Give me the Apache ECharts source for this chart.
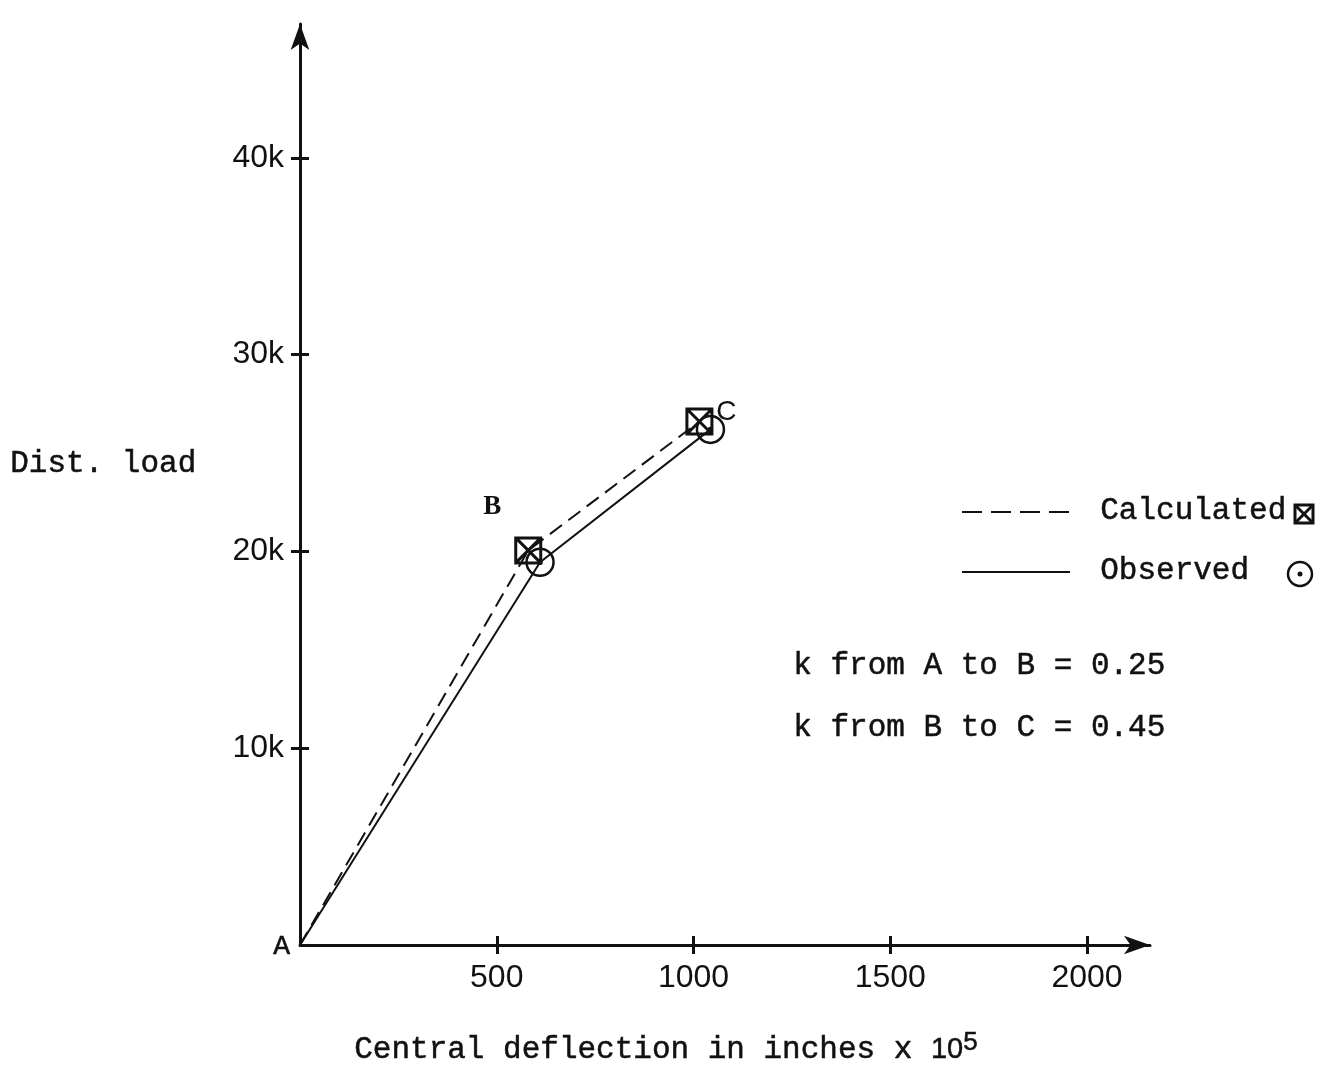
<!DOCTYPE html>
<html>
<head>
<meta charset="utf-8">
<script src="https://cdn.jsdelivr.net/npm/echarts@6/dist/echarts.min.js"></script>
<style>
html, body { margin: 0; padding: 0; background: #fff; }
#chart { width: 1330px; height: 1078px; }
</style>
</head>
<body>
<div id="chart"></div>
<script>
// data (deflection x 1e5 in, load)
var calcPoints = [[0, 0], [580, 20050], [1015, 26600]];
var obsPoints = [[0, 0], [610, 19450], [1043, 26200]];
var xTicks = [500, 1000, 1500, 2000];
var yTicks = [10000, 20000, 30000, 40000];
var pointNames = ['A', 'B', 'C'];

var ink = '#111';
var mono = '"Liberation Mono", "DejaVu Sans Mono", monospace';
var digits = '"Liberation Sans", "DejaVu Sans", sans-serif';

var squareX = 'path://M1,1H23V23H1Z M1,1L23,23 M23,1L1,23';
var circleDot = 'path://M12,1A11,11 0 1 1 11.99,1Z M12,10.8A1.2,1.2 0 1 1 11.99,10.8Z';

var myChart = echarts.init(document.getElementById('chart'));

function buildData(points) {
	var res = [];
	for (var i = 0; i < points.length; i++) {
		var item = { value: points[i] };
		if (i == 0) item.symbolSize = 0;   // no marker at origin
		res.push(item);
	}
	return res;
}

var calcData = buildData(calcPoints);
var obsData = buildData(obsPoints);

// point labels B, C (A is placed at the origin after setOption)
calcData[1].label = {
	show: true, formatter: pointNames[1], position: 'inside', offset: [-36, -43],
	fontFamily: '"Liberation Serif", serif', fontWeight: 'bold', fontSize: 27, color: ink
};
calcData[2].label = {
	show: true, formatter: pointNames[2], position: 'inside', offset: [27, -9],
	fontFamily: digits, fontSize: 28, color: ink
};

var axisCommon = {
	type: 'value',
	splitLine: { show: false },
	axisLine: {
		show: true,
		lineStyle: { color: ink, width: 3 }
	}
};

var typeStyle = function (txt) {
	return { text: txt, font: '31px ' + mono, fill: ink, stroke: ink, lineWidth: 0.5 };
};

option = {
	backgroundColor: '#fff',
	animation: false,
	grid: {
		left: 300,
		right: 180,
		top: 24,
		bottom: 133
	},
	xAxis: [
		echarts.util.merge({
			min: 0,
			max: 2160,
			axisLine: { symbol: ['none', 'arrow'], symbolSize: [14, 26] },
			axisTick: {
				show: true, length: 9, inside: false,
				customValues: xTicks,
				lineStyle: { color: ink, width: 3 }
			},
			axisLabel: {
				show: true, margin: 17,
				customValues: xTicks,
				fontFamily: digits, fontSize: 32, color: ink,
				formatter: function (v) { return String(v); }
			}
		}, axisCommon),
		{
			type: 'value', min: 0, max: 2160, position: 'bottom',
			splitLine: { show: false },
			axisLine: { show: false },
			axisLabel: { show: false },
			axisTick: {
				show: true, length: 9, inside: true,
				customValues: xTicks,
				lineStyle: { color: ink, width: 3 }
			}
		}
	],
	yAxis: [
		echarts.util.merge({
			min: 0,
			max: 46800,
			axisLine: { symbol: ['none', 'arrow'], symbolSize: [14, 26] },
			axisTick: {
				show: true, length: 9, inside: false,
				customValues: yTicks,
				lineStyle: { color: ink, width: 3 }
			},
			axisLabel: {
				show: true, margin: 16,
				customValues: yTicks,
				fontFamily: digits, fontSize: 32, color: ink,
				formatter: function (v) { return (v / 1000) + 'k'; }
			}
		}, axisCommon),
		{
			type: 'value', min: 0, max: 46800, position: 'left',
			splitLine: { show: false },
			axisLine: { show: false },
			axisLabel: { show: false },
			axisTick: {
				show: true, length: 9, inside: true,
				customValues: yTicks,
				lineStyle: { color: ink, width: 3 }
			}
		}
	],
	series: [
		{
			name: 'Calculated',
			type: 'line',
			data: calcData,
			symbol: squareX,
			symbolSize: 25,
			symbolKeepAspect: true,
			lineStyle: { color: ink, width: 2, type: [15, 8] },
			itemStyle: { color: 'rgba(0,0,0,0)', borderColor: ink, borderWidth: 3 },
			z: 3
		},
		{
			name: 'Observed',
			type: 'line',
			data: obsData,
			symbol: circleDot,
			symbolSize: 27,
			symbolKeepAspect: true,
			lineStyle: { color: ink, width: 2 },
			itemStyle: { color: 'rgba(0,0,0,0)', borderColor: ink, borderWidth: 2.5 },
			z: 2
		}
	],
	graphic: [
		// axis titles
		{ type: 'text', left: 10, top: 448, style: typeStyle('Dist. load') },
		{
			type: 'text', left: 354, top: 1030,
			style: {
				text: '{a|Central deflection in inches x }{b|10}{c|5}',
				stroke: ink, lineWidth: 0.5,
				rich: {
					a: { font: '31px ' + mono, fill: ink, height: 40, verticalAlign: 'bottom' },
					b: { font: '29px ' + digits, fill: ink, height: 40, verticalAlign: 'bottom' },
					c: { font: '26px ' + digits, fill: ink, verticalAlign: 'top', padding: [0, 0, 12, 0] }
				}
			}
		},
		// legend
		{
			type: 'line',
			shape: { x1: 962, y1: 512, x2: 1075, y2: 512 },
			style: { stroke: ink, lineWidth: 2, lineDash: [20, 9] }
		},
		{ type: 'text', left: 1100, top: 495, style: typeStyle('Calculated') },
		{
			type: 'group',
			children: [
				{ type: 'rect', shape: { x: 1295, y: 505, width: 18, height: 18 }, style: { fill: 'none', stroke: ink, lineWidth: 3 } },
				{ type: 'line', shape: { x1: 1295, y1: 505, x2: 1313, y2: 523 }, style: { stroke: ink, lineWidth: 3 } },
				{ type: 'line', shape: { x1: 1313, y1: 505, x2: 1295, y2: 523 }, style: { stroke: ink, lineWidth: 3 } }
			]
		},
		{
			type: 'line',
			shape: { x1: 962, y1: 572, x2: 1070, y2: 572 },
			style: { stroke: ink, lineWidth: 2 }
		},
		{ type: 'text', left: 1100, top: 555, style: typeStyle('Observed') },
		{ type: 'circle', shape: { cx: 1300, cy: 574, r: 12 }, style: { fill: 'none', stroke: ink, lineWidth: 2.5 } },
		{ type: 'circle', shape: { cx: 1300, cy: 574, r: 2.5 }, style: { fill: ink } },
		// k notes
		{ type: 'text', left: 793, top: 650, style: typeStyle('k from A to B = 0.25') },
		{ type: 'text', left: 793, top: 712, style: typeStyle('k from B to C = 0.45') }
	]
};

myChart.setOption(option);

// label A at the origin, placed through the axes
var origin = myChart.convertToPixel({ gridIndex: 0 }, obsPoints[0]);
myChart.setOption({
	graphic: option.graphic.concat([{
		type: 'text', x: origin[0] - 10, y: origin[1] + 2,
		style: {
			text: pointNames[0], font: '28px ' + mono, fill: ink, stroke: ink, lineWidth: 0.5,
			align: 'right', verticalAlign: 'middle'
		}
	}])
});
</script>
</body>
</html>
